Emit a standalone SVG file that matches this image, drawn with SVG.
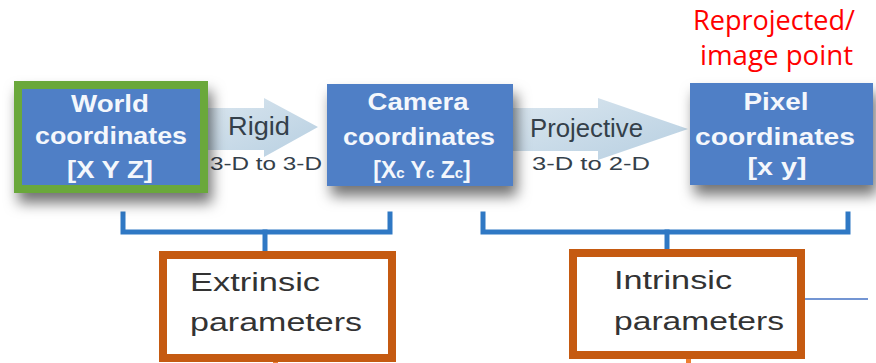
<svg xmlns="http://www.w3.org/2000/svg" width="876" height="363" viewBox="0 0 876 363">
<defs>
<filter id="sh" x="-20%" y="-20%" width="150%" height="180%">
<feDropShadow dx="4" dy="10" stdDeviation="7" flood-color="#000" flood-opacity="0.55"/>
</filter>
<linearGradient id="ag" x1="0" y1="0" x2="1" y2="1">
<stop offset="0" stop-color="#dae6ef"/>
<stop offset="1" stop-color="#b7cfe1"/>
</linearGradient>
<style>
.box{fill:#4f7fc6;}
.bt{font-family:"Liberation Sans",Arial,sans-serif;font-weight:bold;font-size:23px;fill:#f4f7fc;text-anchor:middle;}
.lab{font-family:"Liberation Sans",Arial,sans-serif;fill:#34404a;}
.par{font-family:"Liberation Sans",Arial,sans-serif;font-size:26px;fill:#333;}
.br{fill:none;stroke:#2f78c4;stroke-width:5;stroke-linecap:square;}
.ob{fill:#fff;stroke:#c55a11;stroke-width:8;}
.red{font-family:"Open Sans",sans-serif;font-size:28px;fill:#ff0000;}
</style>
</defs>
<rect width="876" height="363" fill="#fff"/>
<g id="connectors">
<polygon points="203,108 264,108 264,98 318,127 264,157 264,150 203,150" fill="url(#ag)"/>
<polygon points="513,108 598,108 598,98 688,129 598,160 598,151 513,151" fill="url(#ag)"/>
<polyline class="br" points="123,214 123,232 390,232 390,214"/>
<line class="br" x1="265" y1="232" x2="265" y2="252"/>
<polyline class="br" points="483,214 483,232 848,232 848,214"/>
<line class="br" x1="667" y1="232" x2="667" y2="250"/>
<line x1="805" y1="299" x2="868" y2="299" stroke="#4472c4" stroke-width="1.5"/>
<rect x="273" y="358" width="5" height="5" fill="#ed7d31"/>
<rect x="686" y="356" width="5" height="7" fill="#ed7d31"/>
</g>
<g id="labels">
<text class="lab" x="228" y="135" font-size="25" textLength="62" lengthAdjust="spacingAndGlyphs">Rigid</text>
<text class="lab" x="210" y="170" font-size="19" textLength="112" lengthAdjust="spacingAndGlyphs">3-D to 3-D</text>
<text class="lab" x="530" y="137" font-size="25" textLength="113" lengthAdjust="spacingAndGlyphs">Projective</text>
<text class="lab" x="532" y="170" font-size="19" textLength="118" lengthAdjust="spacingAndGlyphs">3-D to 2-D</text>
</g>
<g id="world">
<rect x="14" y="81" width="194" height="112" fill="#6aa83b" filter="url(#sh)"/>
<rect class="box" x="22" y="89" width="178" height="96"/>
<text class="bt" x="110" y="112" textLength="78" lengthAdjust="spacingAndGlyphs">World</text>
<text class="bt" x="111" y="144" textLength="152" lengthAdjust="spacingAndGlyphs">coordinates</text>
<text class="bt" x="110" y="178" textLength="86" lengthAdjust="spacingAndGlyphs">[X Y Z]</text>
</g>
<g id="camera">
<rect class="box" x="327" y="84" width="186" height="102" filter="url(#sh)"/>
<text class="bt" x="418" y="110" textLength="101" lengthAdjust="spacingAndGlyphs">Camera</text>
<text class="bt" x="419" y="145" textLength="152" lengthAdjust="spacingAndGlyphs">coordinates</text>
<text class="bt" x="422" y="178">[X<tspan font-size="15">c</tspan> Y<tspan font-size="15">c</tspan> Z<tspan font-size="15">c</tspan>]</text>
</g>
<g id="pixel">
<rect class="box" x="690" y="83" width="183" height="102" filter="url(#sh)"/>
<text class="bt" x="776" y="110" textLength="65" lengthAdjust="spacingAndGlyphs">Pixel</text>
<text class="bt" x="775" y="145" textLength="160" lengthAdjust="spacingAndGlyphs">coordinates</text>
<text class="bt" x="777" y="175" textLength="59" lengthAdjust="spacingAndGlyphs">[x y]</text>
</g>
<g id="reprojected">
<text class="red" x="693" y="30" textLength="162" lengthAdjust="spacingAndGlyphs">Reprojected/</text>
<text class="red" x="700" y="65" textLength="153" lengthAdjust="spacingAndGlyphs">image point</text>
</g>
<g id="extrinsic">
<rect class="ob" x="163" y="255" width="229" height="103"/>
<text class="par" x="190" y="291" textLength="130" lengthAdjust="spacingAndGlyphs">Extrinsic</text>
<text class="par" x="190" y="331" textLength="172" lengthAdjust="spacingAndGlyphs">parameters</text>
</g>
<g id="intrinsic">
<rect class="ob" x="573" y="253" width="228" height="102"/>
<text class="par" x="614" y="289" textLength="118" lengthAdjust="spacingAndGlyphs">Intrinsic</text>
<text class="par" x="614" y="330" textLength="170" lengthAdjust="spacingAndGlyphs">parameters</text>
</g>
</svg>
